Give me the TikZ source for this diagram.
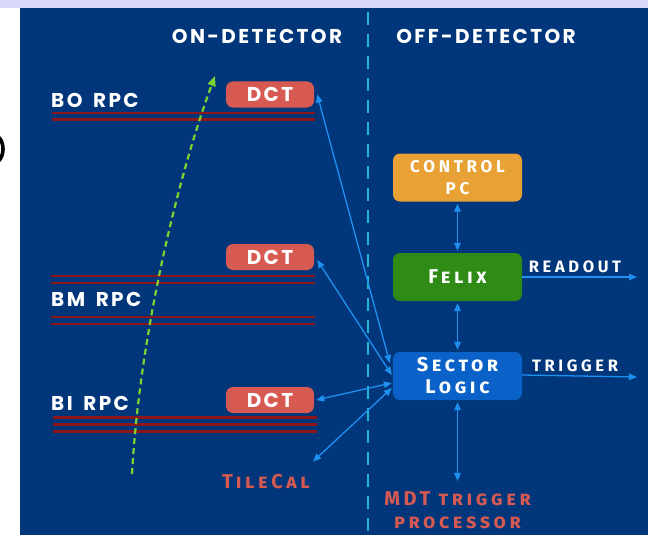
\documentclass[tikz,border=0pt]{standalone}
\usepackage{fontspec}
\usetikzlibrary{arrows.meta,calc}
\newfontfamily\hdfont[LetterSpace=12]{Poppins}
\newfontfamily\scfont[LetterSpace=18]{Fira Sans}
\newfontfamily\capfont[LetterSpace=22]{Fira Sans}
\definecolor{bgblue}{RGB}{2,54,122}
\definecolor{dctred}{RGB}{214,90,82}
\definecolor{pcorange}{RGB}{232,161,52}
\definecolor{felixgreen}{RGB}{47,138,22}
\definecolor{slblue}{RGB}{10,98,200}
\definecolor{arrowblue}{RGB}{30,144,240}
\definecolor{rpcred}{RGB}{140,22,28}
\definecolor{divcyan}{RGB}{32,184,206}
\definecolor{pathgreen}{RGB}{126,211,50}
\definecolor{lavender}{RGB}{216,216,248}
\tikzset{
  dctbox/.style={fill=dctred, rounded corners=7pt, minimum width=88pt, minimum height=26pt, inner sep=0pt, text=white, font=\hdfont\bfseries\fontsize{20}{20}\selectfont},
  offbox/.style={rounded corners=7pt, minimum width=129pt, minimum height=48pt, inner sep=0pt, text=white, align=center},
  rpclabel/.style={text=white, anchor=west, inner sep=0pt, font=\hdfont\bfseries\fontsize{20}{20}\selectfont},
  heading/.style={text=white, inner sep=0pt, font=\hdfont\bfseries\fontsize{20}{20}\selectfont},
  rpcline/.style={rpcred, line width=2.4pt},
  link/.style={arrowblue, line width=1.3pt, {Triangle[length=8pt,width=6.5pt]}-{Triangle[length=8pt,width=6.5pt]}},
  outlink/.style={arrowblue, line width=1.3pt, -{Triangle[length=8pt,width=6.5pt]}},
  outlabel/.style={text=white, inner sep=0pt, font=\capfont\bfseries\fontsize{16.5}{16.5}\selectfont},
  redlabel/.style={text=dctred, inner sep=0pt, align=center, font=\scfont\bfseries\fontsize{20}{23.5}\selectfont}
}
\begin{document}
\begin{tikzpicture}[x=1pt,y=-1pt]
\useasboundingbox (0,0) rectangle (648,535);
% background
\fill[white] (0,0) rectangle (648,535);
\fill[lavender] (0,0) rectangle (648,8);
\fill[bgblue] (20,8) rectangle (648,535);
\begin{scope}
  \clip (0,8) rectangle (20,535);
  \draw[black, line width=3.6pt] (-8,149) ellipse (11pt and 15pt);
\end{scope}
% divider
\coordinate (divtop) at (368,12);
\coordinate (divbot) at (368,531);
\draw[divcyan, line width=2pt, dash pattern=on 13pt off 9pt] (divtop) -- (divbot);
% headings
\node[heading] (onhd) at (257,36) {ON-DETECTOR};
\node[heading] (offhd) at (486,36) {OFF-DETECTOR};
% RPC lines
\coordinate (bo1a) at (52,113); \coordinate (bo1b) at (315,113);
\coordinate (bo2a) at (52,119.5); \coordinate (bo2b) at (315,119.5);
\draw[rpcline] (bo1a) -- (bo1b);
\draw[rpcline] (bo2a) -- (bo2b);
\coordinate (bm1a) at (51,276); \coordinate (bm1b) at (315,276);
\coordinate (bm2a) at (51,283); \coordinate (bm2b) at (315,283);
\coordinate (bm3a) at (51,317); \coordinate (bm3b) at (315,317);
\coordinate (bm4a) at (51,324); \coordinate (bm4b) at (315,324);
\draw[rpcline] (bm1a) -- (bm1b);
\draw[rpcline] (bm2a) -- (bm2b);
\draw[rpcline] (bm3a) -- (bm3b);
\draw[rpcline] (bm4a) -- (bm4b);
\coordinate (bi1a) at (53,417.5); \coordinate (bi1b) at (317,417.5);
\coordinate (bi2a) at (53,424.5); \coordinate (bi2b) at (317,424.5);
\coordinate (bi3a) at (53,431.5); \coordinate (bi3b) at (317,431.5);
\draw[rpcline] (bi1a) -- (bi1b);
\draw[rpcline] (bi2a) -- (bi2b);
\draw[rpcline] (bi3a) -- (bi3b);
% RPC labels
\node[rpclabel] (bo) at (51,100) {BO\hspace{4pt} RPC};
\node[rpclabel] (bm) at (51,299.5) {BM\hspace{4pt} RPC};
\node[rpclabel] (bi) at (51,403) {BI\hspace{4pt} RPC};
% green path
\coordinate (gstart) at (132,474);
\coordinate (gend) at (215,76);
\draw[pathgreen, line width=2.2pt, dash pattern=on 6pt off 4pt, -{Triangle[length=10pt,width=8pt]}]
  (gstart) .. controls (140,330) and (180,170) .. (gend);
% DCT boxes
\node[dctbox] (dct1) at (270,94.5) {DCT};
\node[dctbox] (dct2) at (270,257) {DCT};
\node[dctbox] (dct3) at (270,400) {DCT};
% TileCal
\node[redlabel] (tile) at (266,482) {\scshape TileCal};
% off-detector boxes
\node[offbox, fill=pcorange, font=\capfont\bfseries\fontsize{17}{22}\selectfont] (cpc) at (457.5,177.5) {CONTROL\\PC};
\node[offbox, fill=felixgreen, font=\scfont\bfseries\fontsize{20}{20}\selectfont] (felix) at (457.5,277) {\scshape Felix};
\node[offbox, fill=slblue, font=\scfont\bfseries\fontsize{20}{22}\selectfont] (sl) at (457.5,376) {\scshape Sector\\\scshape Logic};
% MDT label
\node[redlabel] (mdt) at (457.5,510) {MDT \scshape trigger\\\scshape processor};
% vertical links
\draw[link, shorten <=2pt, shorten >=2pt] (cpc.south) -- (felix.north);
\draw[link, shorten <=2pt, shorten >=2pt] (felix.south) -- (sl.north);
\draw[link, shorten <=2pt] (sl.south) -- ([yshift=10pt]mdt.north);
% outputs
\coordinate (roend) at (637,277);
\coordinate (trend) at (637,377);
\draw[outlink] (felix.east) -- (roend);
\draw[outlink] ([yshift=1pt]sl.east) -- (trend);
\node[outlabel] (ro) at (575,267) {READOUT};
\node[outlabel] (tr) at (575,366) {TRIGGER};
% DCT links
\draw[link] ([xshift=3pt]dct1.east) -- ([xshift=-3pt,yshift=13pt]sl.west);
\draw[link] ([xshift=3pt,yshift=-3pt]dct2.east) -- ([xshift=-1pt,yshift=1pt]sl.west);
\draw[link] ([xshift=2pt]dct3.east) -- ([xshift=-1pt,yshift=-7pt]sl.west);
\draw[link] ([xshift=3pt,yshift=13pt]tile.north east) -- ([xshift=-1pt,yshift=-12pt]sl.west);
\end{tikzpicture}
\end{document}
